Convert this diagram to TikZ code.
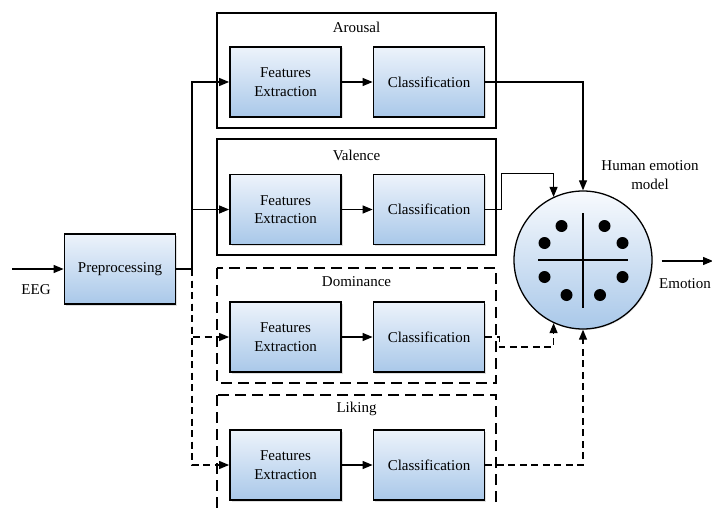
\documentclass[tikz,border=0pt]{standalone}
\usepackage{fontspec}
\setmainfont{Liberation Serif}
\usepackage{tikz}
\usetikzlibrary{arrows.meta,calc,shadows}
\definecolor{boxtop}{HTML}{EDF3FB}
\definecolor{boxbot}{HTML}{A9C8E9}
\tikzset{
  blk/.style={draw,line width=1.8pt,minimum width=111pt,minimum height=70pt,align=center,
    top color=boxtop,bottom color=boxbot,
    drop shadow={opacity=0.25,shadow xshift=1.5pt,shadow yshift=-1.5pt}},
  grp/.style={draw,line width=2.2pt},
  grpd/.style={grp,dash pattern=on 11pt off 6pt},
  arr/.style={line width=1.2pt,-{Triangle[length=10pt,width=8pt]}},
  dsh/.style={dash pattern=on 7pt off 4.5pt}
}
\begin{document}
\begin{tikzpicture}[x=1pt,y=-1pt,font=\fontsize{15}{18.5}\selectfont]
\useasboundingbox (0,0) rectangle (712,508);
% groups
\draw[grp] (217,13) rectangle (496,128);  \node (lara) at (356.5,27) {Arousal};
\draw[grp] (217,139) rectangle (496,255); \node (lval) at (356.5,155) {Valence};
\draw[grpd] (217,268) rectangle (496,383); \node (ldom) at (356.5,282) {Dominance};
\draw[grpd] (217,395) rectangle (496,530); \node (llik) at (356.5,409) {Liking};
% blocks
\node[blk] (pre) at (120,269) {Preprocessing};
\node[blk] (fe1) at (285.5,82) {Features\\Extraction};   \node[blk] (cl1) at (429,82) {Classification};
\node[blk] (fe2) at (285.5,209.5) {Features\\Extraction}; \node[blk] (cl2) at (429,209.5) {Classification};
\node[blk] (fe3) at (285.5,337) {Features\\Extraction};  \node[blk] (cl3) at (429,337) {Classification};
\node[blk] (fe4) at (285.5,465) {Features\\Extraction};  \node[blk] (cl4) at (429,465) {Classification};
% emotion model
\node[circle,draw,line width=1.3pt,minimum size=138pt,top color=white!60!boxtop,bottom color=boxbot,
  drop shadow={opacity=0.2,shadow xshift=1pt,shadow yshift=-1pt}] (emo) at (583,260) {};
\draw[line width=1.5pt] ($(emo)+(-45,0)$) -- ($(emo)+(45,0)$);
\draw[line width=1.5pt] ($(emo)+(0,-47)$) -- ($(emo)+(0,48)$);
\fill ($(emo)+(-21.5,-34)$) circle (6); \fill ($(emo)+(21.5,-34)$) circle (6);
\fill ($(emo)+(-38.5,-17)$) circle (6); \fill ($(emo)+(39.5,-17)$) circle (6);
\fill ($(emo)+(-38.5,17)$) circle (6);  \fill ($(emo)+(39.5,17)$) circle (6);
\fill ($(emo)+(-16.5,35)$) circle (6);  \fill ($(emo)+(17,35)$) circle (6);
\node[align=center] (hem) at (650,175) {Human emotion\\model};
% inputs and outputs
\coordinate (eeg) at (12,269); \coordinate (split) at (192,269); \coordinate (out) at (713,261);
\node (leeg) at (36,290) {EEG};
\node[anchor=west,inner sep=0pt] (lemo) at (659,284) {Emotion};
\draw[arr] (eeg) -- (pre);
\draw[line width=1.2pt] (pre.east) -- (split);
\draw[arr] (split) |- (fe1); \draw[arr] (split) |- (fe2);
\draw[arr,dsh] (split) |- (fe3); \draw[arr,dsh] (split) |- (fe4);
\draw[arr] (fe1) -- (cl1); \draw[arr] (fe2) -- (cl2);
\draw[arr] (fe3) -- (cl3); \draw[arr] (fe4) -- (cl4);
\draw[arr] (cl1.east) -| (emo.north);
\draw[arr] (cl2.east) -- ++(16,0) -- ++(0,-36) -| (emo.115);
\draw[arr,dsh] (cl3.east) -- ++(14,0) -- ++(0,10) -| (emo.245);
\draw[arr,dsh] (cl4.east) -| (emo.south);
\draw[arr] ($(emo.east)+(9,1)$) -- (out);
\end{tikzpicture}
\end{document}
